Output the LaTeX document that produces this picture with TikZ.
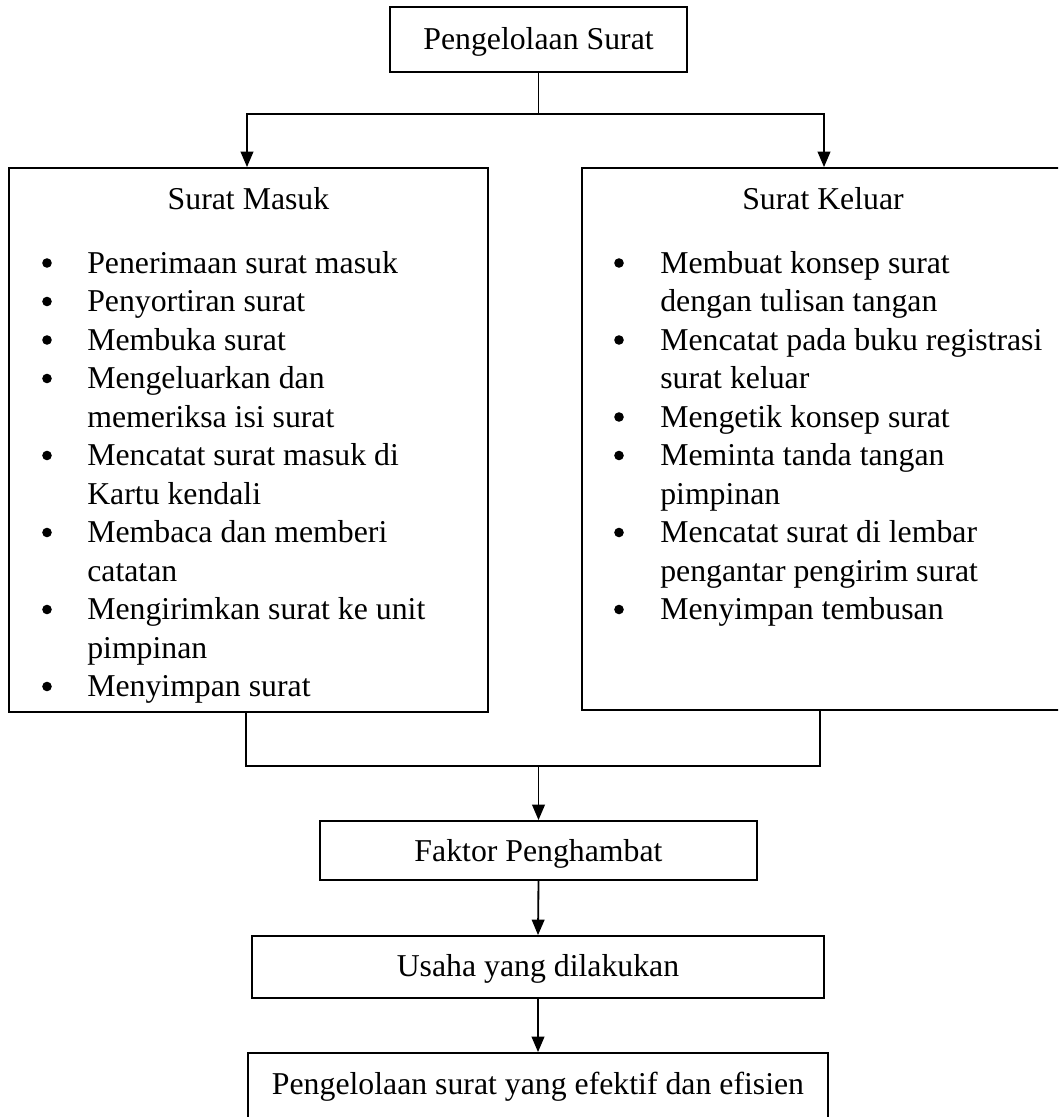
\documentclass[tikz,border=0pt]{standalone}
\usepackage{fontspec}
\setmainfont{Liberation Serif}
\usetikzlibrary{arrows.meta,fit}
\newcommand\dfont{\fontsize{22.6pt}{27pt}\selectfont}
\begin{document}
\begin{tikzpicture}[x=0.025cm,y=-0.025cm,
  box/.style={draw, line width=1.3pt, inner sep=0pt, rectangle},
  txt/.style={font=\dfont, inner sep=0pt},
  arr/.style={line width=1.3pt, -{Triangle[width=9pt,length=11pt]}},
  ln/.style={line width=1.3pt},
  bul/.style={circle, fill, draw=none, inner sep=0pt, minimum size=0.24cm}]
\useasboundingbox (0,0) rectangle (1058,1117);
\clip (0,0) rectangle (1058,1117);
% boxes
\node[box, fit={(390,7) (687,72)}] (top) {};
\node[txt, anchor=base] (topt) at (538.5,50) {Pengelolaan Surat};
\node[box, fit={(9,168) (488,712)}] (lm) {};
\node[txt, anchor=base] (lmt) at (248.5,209) {Surat Masuk};
\node[box, fit={(582,168) (1064,710)}] (rm) {};
\node[txt, anchor=base] (rmt) at (823,209) {Surat Keluar};
\node[box, fit={(320,821) (757,880)}] (fak) {};
\node[txt, anchor=base] (fakt) at (538.5,861) {Faktor Penghambat};
\node[box, fit={(252,936) (824,998)}] (usa) {};
\node[txt, anchor=base] (usat) at (538,976) {Usaha yang dilakukan};
\node[box, fit={(248,1053) (828,1118)}] (fin) {};
\node[txt, anchor=base] (fint) at (538,1094) {Pengelolaan surat yang efektif dan efisien};
% left list
\foreach \t/\b [count=\i] in {Penerimaan surat masuk/1, Penyortiran surat/1, Membuka surat/1,
  Mengeluarkan dan/1, memeriksa isi surat/0, Mencatat surat masuk di/1, Kartu kendali/0,
  Membaca dan memberi/1, catatan/0, Mengirimkan surat ke unit/1, pimpinan/0, Menyimpan surat/1}{
  \node[txt, anchor=base west] (L\i) at (87,{273+38.5*(\i-1)}) {\t};
  \ifnum\b=1 \node[bul] (LB\i) at (47,{263+38.5*(\i-1)}) {};\fi
}
% right list
\foreach \t/\b [count=\i] in {Membuat konsep surat/1, dengan tulisan tangan/0,
  Mencatat pada buku registrasi/1, surat keluar/0, Mengetik konsep surat/1,
  Meminta tanda tangan/1, pimpinan/0, Mencatat surat di lembar/1,
  pengantar pengirim surat/0, Menyimpan tembusan/1}{
  \node[txt, anchor=base west] (R\i) at (660,{273+38.5*(\i-1)}) {\t};
  \ifnum\b=1 \node[bul] (RB\i) at (619,{263+38.5*(\i-1)}) {};\fi
}
% connectors
\coordinate (j) at (538.5,114);
\coordinate (jl) at (247,114);
\coordinate (jr) at (824,114);
\draw[ln] (top.south) -- (j);
\draw[arr] (j) -- (jl) -- (jl |- lm.north);
\draw[arr] (j) -- (jr) -- (jr |- rm.north);
\coordinate (kl) at (246,766);
\coordinate (kr) at (820,766);
\coordinate (km) at (538.5,766);
\draw[ln] (kl |- lm.south) -- (kl) -- (kr) -- (kr |- rm.south);
\draw[arr] (km) -- (fak.north);
\draw[arr] (fak.south) -- (usa.north);
\draw[arr] (usa.south) -- (fin.north);
\end{tikzpicture}
\end{document}
